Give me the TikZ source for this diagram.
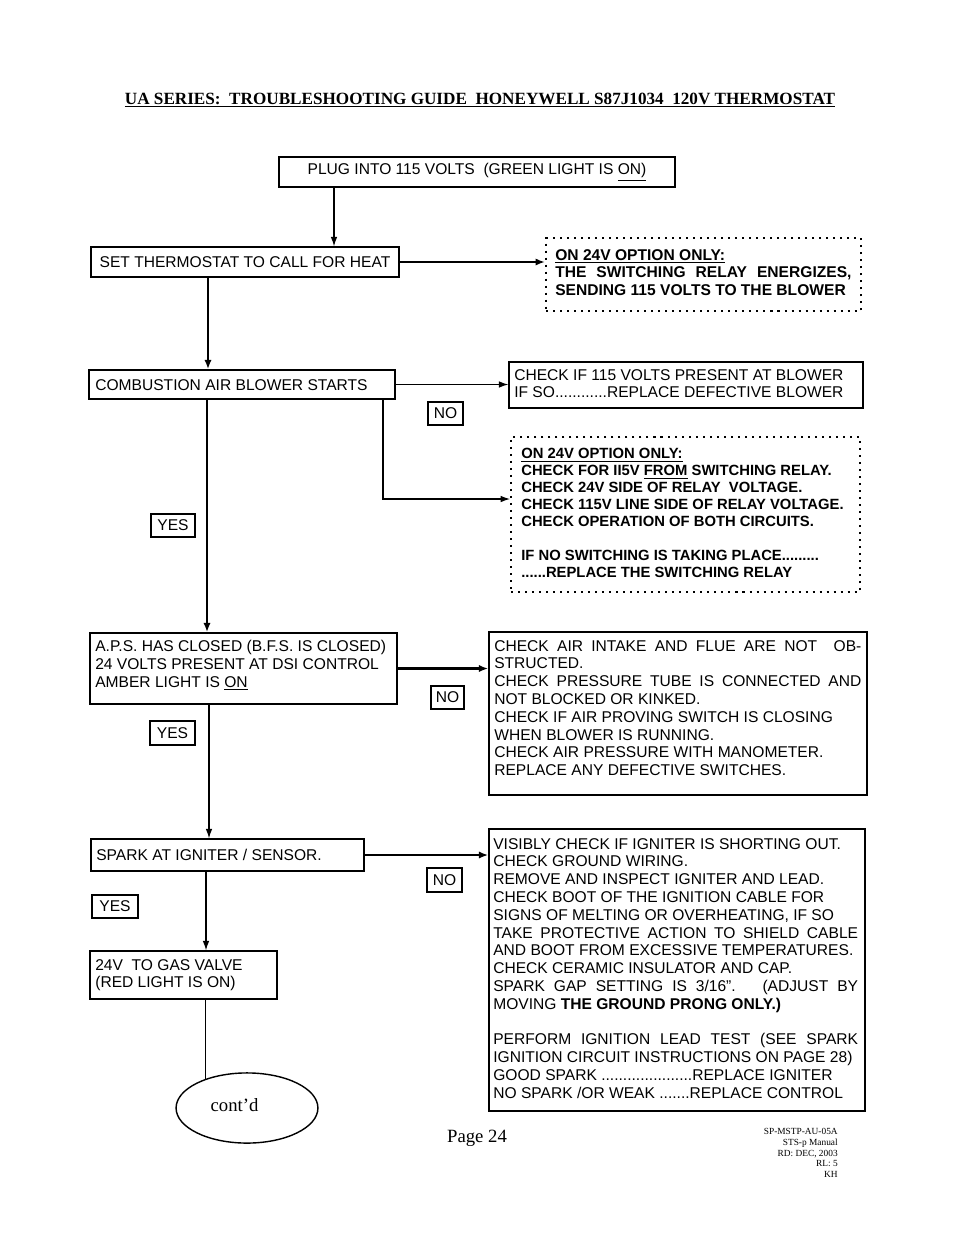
\documentclass[tikz,border=0pt]{standalone}
\usepackage{fontspec}
\setmainfont{Liberation Sans}
\newfontfamily\tms{Liberation Serif}
\usetikzlibrary{arrows.meta,fit,shapes.geometric}
\newcommand\jl[2]{\makebox[#1][s]{#2}}
\begin{document}
\begin{tikzpicture}[x=0.6415pt,y=-0.6415pt,
  box/.style={draw,line width=0.9pt,inner sep=0pt},
  dbox/.style={draw,line width=1.3pt,dash pattern=on 1.3pt off 3.2pt,inner sep=0pt},
  lbl/.style={draw,line width=0.9pt,inner sep=0pt,minimum height=14.8pt,font=\fontsize{10}{11.4}\selectfont},
  txt/.style={inner sep=0pt,align=left,font=\fontsize{10}{11.4}\selectfont},
  btxt/.style={inner sep=0pt,align=left,font=\bfseries\fontsize{10}{11.2}\selectfont},
  bstxt/.style={inner sep=0pt,align=left,font=\bfseries\fontsize{9.5}{10.9}\selectfont},
  arr/.style={line width=0.7pt,-{Latex[length=6pt,width=4.2pt]}},
  tarr/.style={line width=1.4pt,-{Latex[length=6pt,width=4.6pt]}}]
\useasboundingbox (0,0) rectangle (954,1235);

% title
\node[inner sep=0pt,font=\tms\bfseries\fontsize{11}{13}\selectfont] (title) at (480,100)
  {\underline{UA SERIES:\ \ TROUBLESHOOTING GUIDE\ \ HONEYWELL S87J1034\ \ 120V THERMOSTAT}};

% boxes
\node[box,fit={(279,157)(675,187)}] (b1) {};
\node[txt] (t1) at (b1.center) {PLUG INTO 115 VOLTS\ \ (GREEN LIGHT IS \underline{ON)}};

\node[box,fit={(91,247)(399,277)}] (b2) {};
\node[txt] (t2) at (b2.center) {SET THERMOSTAT TO CALL FOR HEAT};

\node[dbox,fit={(546,238)(861,311)}] (d1) {};
\node[btxt,anchor=north west] (td1) at (555,249)
  {\underline{ON 24V OPTION ONLY:}\\
   \jl{190pt}{THE\ \ SWITCHING\ \ RELAY\ \ ENERGIZES,}\\
   SENDING 115 VOLTS TO THE BLOWER};

\node[box,fit={(89,370)(395,399)}] (b3) {};
\node[txt,anchor=west] (t3) at (95,385) {COMBUSTION AIR BLOWER STARTS};

\node[box,fit={(509,362)(863,408)}] (b4) {};
\node[txt,anchor=north west] (t4) at (514,369)
  {CHECK IF 115 VOLTS PRESENT AT BLOWER\\
   IF SO............REPLACE DEFECTIVE BLOWER};

\node[lbl,minimum width=22.5pt] (no1) at (445.5,413.5) {NO};

\node[dbox,fit={(511,437)(860,592)}] (d2) {};
\node[bstxt,anchor=north west] (td2) at (521,448)
  {\underline{ON 24V OPTION ONLY:}\\
   CHECK FOR II5V \underline{FROM} SWITCHING RELAY.\\
   CHECK 24V SIDE OF RELAY\ \ VOLTAGE.\\
   CHECK 115V LINE SIDE OF RELAY VOLTAGE.\\
   CHECK OPERATION OF BOTH CIRCUITS.\\[10.9pt]
   IF NO SWITCHING IS TAKING PLACE.........\\
   ......REPLACE THE SWITCHING RELAY};

\node[lbl,minimum width=28.2pt] (yes1) at (173,525.5) {YES};

\node[box,fit={(90,633)(397,704)}] (b5) {};
\node[txt,anchor=north west] (t5) at (95,640)
  {A.P.S. HAS CLOSED (B.F.S. IS CLOSED)\\
   24 VOLTS PRESENT AT DSI CONTROL\\
   AMBER LIGHT IS \underline{ON}};

\node[box,fit={(489,632)(867,795)}] (b6) {};
\node[txt,anchor=north west] (t6) at (494,640)
  {\jl{235.5pt}{CHECK\ AIR\ INTAKE\ AND\ FLUE\ ARE\ NOT\ \ OB-}\\
   STRUCTED.\\
   \jl{235.5pt}{CHECK PRESSURE TUBE IS CONNECTED AND}\\
   NOT BLOCKED OR KINKED.\\
   CHECK IF AIR PROVING SWITCH IS CLOSING\\
   WHEN BLOWER IS RUNNING.\\
   CHECK AIR PRESSURE WITH MANOMETER.\\
   REPLACE ANY DEFECTIVE SWITCHES.};

\node[lbl,minimum width=21.2pt] (no2) at (447.5,697.5) {NO};
\node[lbl,minimum width=28.9pt,minimum height=15.4pt] (yes2) at (172.5,733) {YES};

\node[box,fit={(91,839)(364,871)}] (b7) {};
\node[txt,anchor=west] (t7) at (96,855) {SPARK AT IGNITER / SENSOR.};

\node[box,fit={(489,829)(865,1111)}] (b8) {};
\node[txt,anchor=north west] (t8) at (493,838)
  {VISIBLY CHECK IF IGNITER IS SHORTING OUT.\\
   CHECK GROUND WIRING.\\
   REMOVE AND INSPECT IGNITER AND LEAD.\\
   CHECK BOOT OF THE IGNITION CABLE FOR\\
   SIGNS OF MELTING OR OVERHEATING, IF SO\\
   \jl{234pt}{TAKE PROTECTIVE ACTION TO SHIELD CABLE}\\
   AND BOOT FROM EXCESSIVE TEMPERATURES.\\
   CHECK CERAMIC INSULATOR AND CAP.\\
   \jl{234pt}{SPARK GAP SETTING IS 3/16”.\ \ \ (ADJUST BY}\\
   MOVING \textbf{THE GROUND PRONG ONLY.)}\\[11.4pt]
   \jl{234pt}{PERFORM IGNITION LEAD TEST (SEE SPARK}\\
   IGNITION CIRCUIT INSTRUCTIONS ON PAGE 28)\\
   GOOD SPARK .....................REPLACE IGNITER\\
   NO SPARK /OR WEAK .......REPLACE CONTROL};

\node[lbl,minimum width=22.5pt,minimum height=15.4pt] (no3) at (444.5,880) {NO};
\node[lbl,minimum width=29.5pt] (yes3) at (115,906.5) {YES};

\node[box,fit={(90,951)(277,999)}] (b9) {};
\node[txt,anchor=north west] (t9) at (95,959)
  {24V\ \ TO GAS VALVE\\
   (RED LIGHT IS ON)};

\node[draw,ellipse,line width=0.9pt,inner sep=0pt,minimum width=91pt,minimum height=45pt] (el) at (247,1108) {};
\node[inner sep=0pt,font=\tms\fontsize{12}{14}\selectfont] (tel) at (234.5,1105) {cont’d};

% footer
\node[inner sep=0pt,font=\tms\fontsize{12}{14}\selectfont] (page) at (477,1138) {Page 24};
\node[inner sep=0pt,anchor=north east,align=right,font=\tms\fontsize{6}{6.9}\selectfont] (foot) at (838,1128)
  {SP-MSTP-AU-05A\\STS-p Manual\\RD: DEC, 2003\\RL: 5\\KH};

% connectors
\coordinate (x334) at (334,0);
\coordinate (x208) at (208,0);
\coordinate (x207) at (207,0);
\coordinate (x209) at (209,0);
\coordinate (x206) at (206,0);
\coordinate (cA) at (383,499);
\draw[arr] (b1.south -| x334) -- (b2.north -| x334);
\draw[tarr] (b2.east) -- (d1.west |- b2.east);
\draw[tarr] (b2.south -| x208) -- (b3.north -| x208);
\draw[arr] (b3.east) -- (b4.west |- b3.east);
\draw[arr] (b3.south -| cA) -- (cA) -- (d2.west |- cA);
\draw[tarr] (b3.south -| x207) -- (b5.north -| x207);
\draw[tarr] (b5.east) -- (b6.west |- b5.east);
\draw[arr] (b5.south -| x209) -- (b7.north -| x209);
\draw[tarr] (b7.east) -- (b8.west |- b7.east);
\draw[arr] (b7.south -| x206) -- (b9.north -| x206);
\draw[line width=1pt] (b9.south -| el.145) -- (el.145);
\end{tikzpicture}
\end{document}
